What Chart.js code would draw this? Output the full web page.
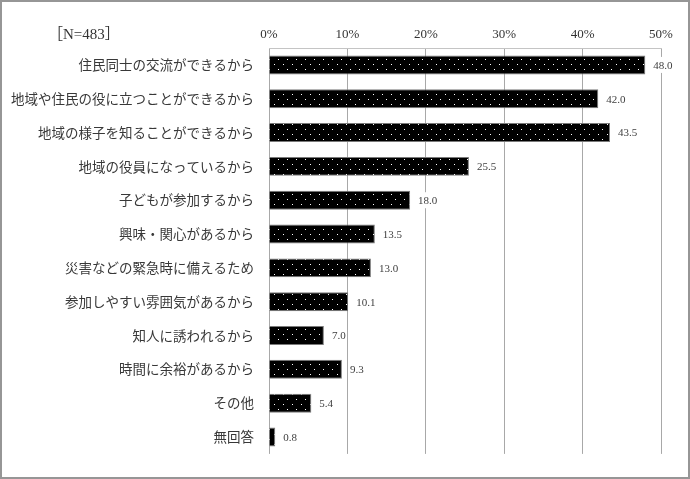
<!DOCTYPE html>
<html lang="ja">
<head>
<meta charset="utf-8">
<script src="https://cdn.jsdelivr.net/npm/chart.js@4.4.1/dist/chart.umd.min.js"></script>
<style>
  html, body { margin: 0; padding: 0; background: #fff; }
  #frame {
    position: relative;
    width: 690px; height: 479px;
    box-sizing: border-box;
    border: 2px solid #969696;
    background: #fff;
  }
  #box { position: absolute; left: 0; top: 0; width: 686px; height: 475px; }
  #nlabel {
    position: absolute; left: 46px; top: 20px;
    font-family: "Liberation Serif", "Noto Sans CJK JP", serif;
    font-size: 15px; color: #333;
  }
</style>
</head>
<body>
<div id="frame">
  <div id="box"><canvas id="chart"></canvas></div>
  <div id="nlabel">［N=483］</div>
</div>
<script>
// categories and values (percent), top to bottom
const categories = [
    "住民同士の交流ができるから",
    "地域や住民の役に立つことができるから",
    "地域の様子を知ることができるから",
    "地域の役員になっているから",
    "子どもが参加するから",
    "興味・関心があるから",
    "災害などの緊急時に備えるため",
    "参加しやすい雰囲気があるから",
    "知人に誘われるから",
    "時間に余裕があるから",
    "その他",
    "無回答"
];
const values = [48.0, 42.0, 43.5, 25.5, 18.0, 13.5, 13.0, 10.1, 7.0, 9.3, 5.4, 0.8];
const xTicks = [0, 10, 20, 30, 40, 50];

// black fill with small white dots
function makeDots() {
    const c = document.createElement("canvas");
    c.width = 9;
    c.height = 10;
    const g = c.getContext("2d");
    g.fillStyle = "#000";
    g.fillRect(0, 0, 9, 10);
    g.fillStyle = "#ffffff";
    g.fillRect(2, 2, 1, 1);
    g.fillRect(6, 7, 1, 1);
    return g.createPattern(c, "repeat");
}

// value labels with a white box behind (covers the grid line)
const valueLabels = {
    id: "valueLabels",
    afterDatasetsDraw(chart) {
        const ctx = chart.ctx;
        const meta = chart.getDatasetMeta(0);
        ctx.save();
        ctx.font = "11px 'Liberation Serif', serif";
        ctx.textBaseline = "middle";
        ctx.textAlign = "left";
        meta.data.forEach((bar, i) => {
            const txt = values[i].toFixed(1);
            const x = bar.x + 8;
            const w = ctx.measureText(txt).width;
            ctx.fillStyle = "#fff";
            ctx.fillRect(x - 1, bar.y - 8, w + 2, 16);
            ctx.fillStyle = "#404040";
            ctx.fillText(txt, x, bar.y + 1);
        });
        ctx.restore();
    }
};

Chart.defaults.font.family = "'Noto Sans CJK JP', sans-serif";

new Chart(document.getElementById("chart").getContext("2d"), {
    type: "bar",
    data: {
        labels: categories,
        datasets: [{
            data: values,
            backgroundColor: makeDots(),
            borderColor: "#7a7a7a",
            borderWidth: 1,
            categoryPercentage: 1,
            barPercentage: 0.56
        }]
    },
    options: {
        indexAxis: "y",
        responsive: true,
        maintainAspectRatio: false,
        animation: false,
        layout: { padding: { left: 0, right: 27, top: 0, bottom: 17 } },
        plugins: {
            legend: { display: false },
            tooltip: { enabled: false }
        },
        scales: {
            x: {
                position: "top",
                min: 0,
                max: 50,
                afterBuildTicks: s => { s.ticks = xTicks.map(v => ({ value: v })); },
                afterFit: s => { s.height = 46; },
                grid: { color: "#a8a8a8", lineWidth: 1, drawTicks: false },
                border: { display: true, color: "#c4c4c4" },
                ticks: {
                    padding: 6,
                    color: "#333",
                    font: { family: "'Liberation Serif', serif", size: 13 },
                    callback: v => v + "%"
                }
            },
            y: {
                afterFit: s => { s.width = 267; },
                grid: { display: false, drawTicks: false },
                border: { display: false },
                ticks: {
                    padding: 15,
                    color: "#383838",
                    font: { size: 13.5 }
                }
            }
        }
    },
    plugins: [valueLabels]
});
</script>
</body>
</html>
